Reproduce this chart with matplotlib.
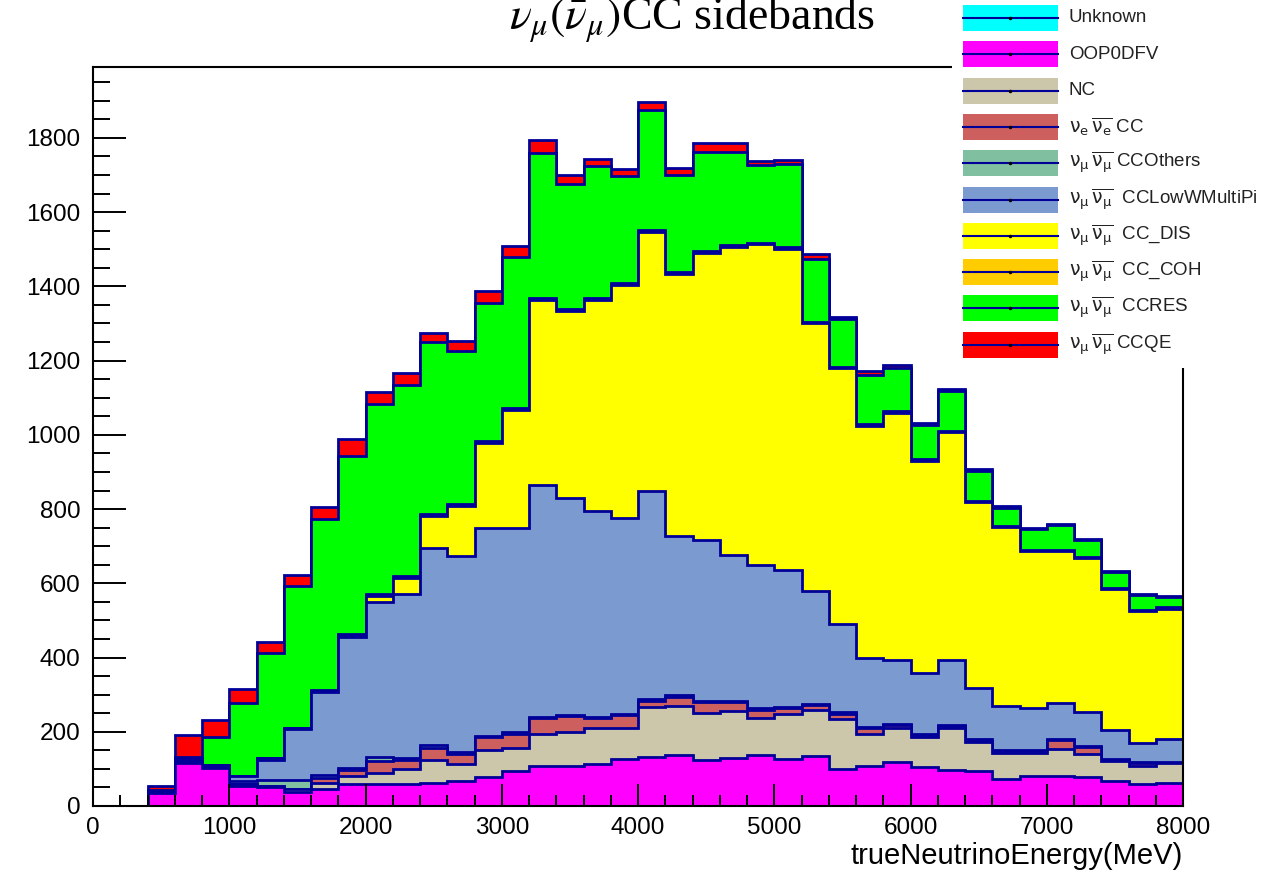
import numpy as np
import matplotlib.pyplot as plt
from matplotlib.patches import Rectangle
from matplotlib.ticker import MultipleLocator

plt.rcParams['font.family'] = ['Liberation Sans', 'DejaVu Sans']

# 200 MeV bins from 0 to 8000 MeV
edges = np.arange(0, 8001, 200)

# events per bin, listed from the bottom of the stack upwards
unknown = [0] * 40
oop0dfv = [0, 0, 36, 115, 102, 55, 51, 38, 47, 60,
           59, 59, 62, 67, 79, 94, 109, 108, 113, 127,
           133, 137, 125, 129, 137, 127, 135, 101, 109, 118,
           106, 97, 95, 73, 81, 81, 79, 68, 59, 61]
nc = [0, 0, 0, 2, 2, 3, 4, 8, 15, 21,
      29, 41, 63, 47, 73, 62, 84, 92, 97, 83,
      134, 133, 125, 127, 101, 121, 123, 133, 85, 92,
      80, 113, 78, 69, 63, 73, 61, 54, 50, 55]
ve_cc = [0, 0, 0, 2, 2, 0, 0, 0, 14, 16,
         32, 24, 32, 27, 33, 39, 43, 42, 26, 35,
         16, 25, 31, 24, 21, 16, 14, 14, 15, 8,
         5, 5, 2, 7, 4, 24, 20, 3, 7, 1]
cc_others = [0, 0, 2, 6, 2, 10, 14, 24, 8, 5,
             13, 4, 8, 4, 4, 4, 4, 4, 4, 3,
             5, 4, 3, 4, 5, 3, 4, 4, 3, 3,
             3, 3, 5, 2, 3, 2, 2, 2, 3, 2]
cc_lowwmultipi = [0, 0, 3, 5, 2, 12, 55, 138, 223, 352,
                  417, 442, 530, 528, 560, 551, 626, 585, 555, 528,
                  561, 428, 433, 392, 385, 369, 303, 238, 186, 172,
                  164, 175, 139, 118, 114, 97, 92, 78, 50, 61]
cc_dis = [0, 0, 0, 0, 0, 0, 4, 2, 4, 6,
          15, 44, 85, 135, 229, 316, 496, 502, 568, 628,
          697, 707, 773, 831, 864, 866, 721, 690, 627, 667,
          572, 614, 501, 483, 421, 409, 414, 379, 356, 352]
cc_coh = [0, 0, 0, 0, 0, 0, 2, 1, 2, 3,
          5, 6, 7, 6, 5, 5, 6, 5, 5, 5,
          6, 5, 5, 5, 5, 5, 5, 4, 4, 4,
          4, 4, 3, 3, 3, 3, 3, 3, 3, 3]
cc_res = [0, 0, 2, 3, 77, 198, 282, 383, 461, 480,
          514, 513, 463, 413, 371, 409, 392, 338, 356, 289,
          323, 261, 268, 251, 208, 223, 170, 128, 132, 117,
          93, 107, 80, 48, 56, 67, 45, 43, 40, 28]
cc_qe = [0, 0, 10, 57, 45, 37, 30, 28, 32, 47,
         31, 34, 25, 26, 34, 29, 33, 24, 20, 18,
         22, 20, 24, 24, 12, 11, 12, 6, 11, 6,
         4, 5, 4, 4, 4, 3, 4, 3, 3, 3]

labels = ['Unknown', 'OOP0DFV', 'NC',
          r'$\mathrm{\nu_{e}\,\overline{\nu_{e}}}$ CC',
          r'$\mathrm{\nu_{\mu}\,\overline{\nu_{\mu}}}$ CCOthers',
          r'$\mathrm{\nu_{\mu}\,\overline{\nu_{\mu}}}$  CCLowWMultiPi',
          r'$\mathrm{\nu_{\mu}\,\overline{\nu_{\mu}}}$  CC_DIS',
          r'$\mathrm{\nu_{\mu}\,\overline{\nu_{\mu}}}$  CC_COH',
          r'$\mathrm{\nu_{\mu}\,\overline{\nu_{\mu}}}$  CCRES',
          r'$\mathrm{\nu_{\mu}\,\overline{\nu_{\mu}}}$ CCQE']
colors = ['#00ffff', '#ff00ff', '#ccc6aa', '#cd5f5f', '#80bfa0',
          '#7b9bd0', '#ffff00', '#ffcc00', '#00ff00', '#ff0000']
line_col = '#000099'

stack = np.vstack([unknown, oop0dfv, nc, ve_cc, cc_others, cc_lowwmultipi,
                   cc_dis, cc_coh, cc_res, cc_qe])
cum = np.cumsum(stack, axis=0)

fig = plt.figure(figsize=(12.68, 8.75), dpi=100)
ax = fig.add_axes([93 / 1268, 69 / 875, 1090 / 1268, 739 / 875])

# ROOT-style stack: draw the full sum first, then each lower sum over it
for k in range(len(labels) - 1, -1, -1):
    ax.stairs(cum[k], edges, baseline=0, fill=True, color=colors[k], lw=0)
    ax.stairs(cum[k], edges, baseline=0, color=line_col, lw=2.0)

ax.set_xlim(0, 8000)
ax.set_ylim(0, 1991)
ax.xaxis.set_major_locator(MultipleLocator(1000))
ax.xaxis.set_minor_locator(MultipleLocator(200))
ax.yaxis.set_major_locator(MultipleLocator(200))
ax.yaxis.set_minor_locator(MultipleLocator(50))
ax.tick_params(axis='both', which='both', direction='in', width=1.4,
               top=False, right=False, labelsize=17.5)
ax.tick_params(axis='y', which='major', length=24, pad=9)
ax.tick_params(axis='y', which='minor', length=12)
ax.tick_params(axis='x', which='major', length=16, pad=8)
ax.tick_params(axis='x', which='minor', length=8)
for s in ax.spines.values():
    s.set_linewidth(1.5)
ax.set_xlabel('trueNeutrinoEnergy(MeV)', loc='right', fontsize=21, labelpad=2)

fig.text(692 / 1268, 1 - 30 / 875, r'$\nu_{\mu}(\bar{\nu}_{\mu})$CC sidebands',
         ha='center', va='baseline', fontsize=33, family='Liberation Serif',
         math_fontfamily='stix')

# legend box in the top right corner, drawn in pixel units
lax = fig.add_axes([952 / 1268, 1 - 368 / 875, 316 / 1268, 368 / 875])
lax.set_xlim(952, 1268)
lax.set_ylim(368, 0)
lax.axis('off')
lax.add_patch(Rectangle((952, 0), 316, 368, facecolor='white', edgecolor='none'))
for k, (lab, col) in enumerate(zip(labels, colors)):
    yc = 18 + 36.3 * k
    lax.add_patch(Rectangle((963, yc - 13), 95, 26, facecolor=col, edgecolor='none'))
    lax.plot([963, 1058], [yc, yc], color=line_col, lw=1.5)
    lax.plot([1010], [yc], marker='.', ms=3, color='black')
    lax.text(1069, yc, lab, va='center', ha='left', fontsize=13.5, color='#222222',
             math_fontfamily='dejavusans')

fig.savefig('out.png', dpi=100)
